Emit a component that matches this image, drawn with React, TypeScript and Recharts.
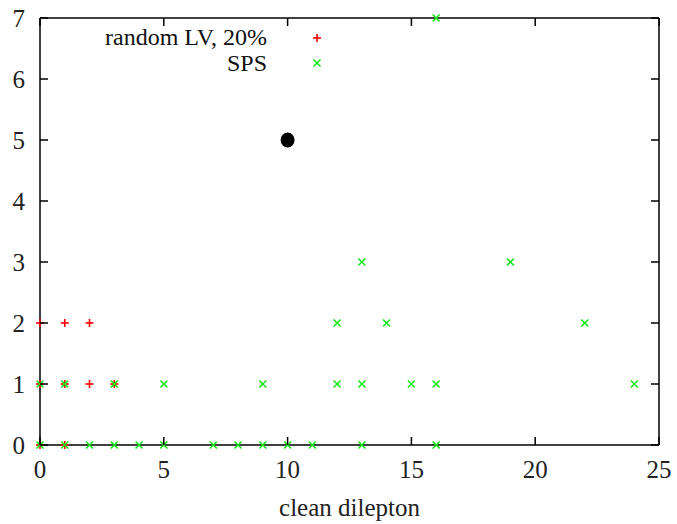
import { ScatterChart, Scatter, XAxis, YAxis } from "recharts";

const FONT = '"Liberation Serif", "Times New Roman", serif';

const xTicks = [0, 5, 10, 15, 20, 25];
const yTicks = [0, 1, 2, 3, 4, 5, 6, 7];

// random LV, 20%
const lvPoints = [
  { x: 0, y: 0 }, { x: 1, y: 0 },
  { x: 0, y: 1 }, { x: 1, y: 1 }, { x: 2, y: 1 }, { x: 3, y: 1 },
  { x: 0, y: 2 }, { x: 1, y: 2 }, { x: 2, y: 2 },
];

// SPS
const spsPoints = [
  { x: 0, y: 0 }, { x: 1, y: 0 }, { x: 2, y: 0 }, { x: 3, y: 0 }, { x: 4, y: 0 },
  { x: 5, y: 0 }, { x: 7, y: 0 }, { x: 8, y: 0 }, { x: 9, y: 0 }, { x: 10, y: 0 },
  { x: 11, y: 0 }, { x: 13, y: 0 }, { x: 16, y: 0 },
  { x: 0, y: 1 }, { x: 1, y: 1 }, { x: 3, y: 1 }, { x: 5, y: 1 }, { x: 9, y: 1 },
  { x: 12, y: 1 }, { x: 13, y: 1 }, { x: 15, y: 1 }, { x: 16, y: 1 }, { x: 24, y: 1 },
  { x: 12, y: 2 }, { x: 14, y: 2 }, { x: 22, y: 2 },
  { x: 13, y: 3 }, { x: 19, y: 3 },
  { x: 16, y: 7 },
];

// observed point
const dataPoint = [{ x: 10, y: 5 }];

const legendNames = ["random LV, 20%", "SPS"];

const RED = "#ff0000";
const GREEN = "#14e614";

const Plus = (props: any) => {
  const { cx, cy } = props;
  return (
    <g stroke={RED} strokeWidth={1.6}>
      <line x1={cx - 4} x2={cx + 4} y1={cy} y2={cy} />
      <line x1={cx} x2={cx} y1={cy - 4} y2={cy + 4} />
    </g>
  );
};

const Cross = (props: any) => {
  const { cx, cy } = props;
  return (
    <g stroke={GREEN} strokeWidth={1.6}>
      <line x1={cx - 3.5} x2={cx + 3.5} y1={cy - 3.5} y2={cy + 3.5} />
      <line x1={cx - 3.5} x2={cx + 3.5} y1={cy + 3.5} y2={cy - 3.5} />
    </g>
  );
};

const Dot = (props: any) => {
  const { cx, cy } = props;
  return <ellipse cx={cx} cy={cy} rx={7} ry={7.5} fill="#000" />;
};

const Nothing = () => <g />;

const BottomTick = (props: any) => {
  const { x, y, payload } = props;
  return (
    <g>
      <line x1={x} x2={x} y1={y} y2={y - 8} stroke="#000" strokeWidth={1.5} />
      <text x={x} y={y + 33} textAnchor="middle" fontSize={25} fontFamily={FONT} fill="#222">
        {payload.value}
      </text>
    </g>
  );
};

const TopTick = (props: any) => {
  const { x, y } = props;
  return <line x1={x} x2={x} y1={y} y2={y + 8} stroke="#000" strokeWidth={1.5} />;
};

const LeftTick = (props: any) => {
  const { x, y, payload } = props;
  return (
    <g>
      <line x1={x} x2={x + 8} y1={y} y2={y} stroke="#000" strokeWidth={1.5} />
      <text x={x - 15} y={y + 9} textAnchor="end" fontSize={25} fontFamily={FONT} fill="#222">
        {payload.value}
      </text>
    </g>
  );
};

const RightTick = (props: any) => {
  const { x, y } = props;
  return <line x1={x} x2={x - 8} y1={y} y2={y} stroke="#000" strokeWidth={1.5} />;
};

const axisLine = { stroke: "#000", strokeWidth: 1.5 };

export default function App() {
  return (
    <div style={{ position: "absolute", left: 0, top: 0, width: 677, height: 524, background: "#fff" }}>
      <ScatterChart width={677} height={524} margin={{ top: 17, right: 17, bottom: 0, left: 0 }}>
        <XAxis
          type="number"
          dataKey="x"
          domain={[0, 25]}
          ticks={xTicks}
          height={79}
          axisLine={axisLine}
          tickLine={false}
          tickSize={0}
          tickMargin={0}
          tick={<BottomTick />}
          interval={0}
          label={{
            value: "clean dilepton",
            position: "insideBottom",
            offset: 8,
            style: { fontFamily: FONT, fontSize: 25, fill: "#222" },
          }}
        />
        <XAxis
          xAxisId="top"
          orientation="top"
          type="number"
          dataKey="x"
          domain={[0, 25]}
          ticks={xTicks}
          height={1}
          axisLine={axisLine}
          tickLine={false}
          tickSize={0}
          tickMargin={0}
          tick={<TopTick />}
          interval={0}
        />
        <YAxis
          type="number"
          dataKey="y"
          domain={[0, 7]}
          ticks={yTicks}
          width={40}
          axisLine={axisLine}
          tickLine={false}
          tickSize={0}
          tickMargin={0}
          tick={<LeftTick />}
          interval={0}
        />
        <YAxis
          yAxisId="right"
          orientation="right"
          type="number"
          dataKey="y"
          domain={[0, 7]}
          ticks={yTicks}
          width={1}
          axisLine={axisLine}
          tickLine={false}
          tickSize={0}
          tickMargin={0}
          tick={<RightTick />}
          interval={0}
        />
        <Scatter name={legendNames[0]} data={lvPoints} shape={<Plus />} isAnimationActive={false} />
        <Scatter name={legendNames[1]} data={spsPoints} shape={<Cross />} isAnimationActive={false} />
        <Scatter name="data" data={dataPoint} shape={<Dot />} isAnimationActive={false} />
        <Scatter
          xAxisId="top"
          yAxisId="right"
          data={spsPoints}
          shape={<Nothing />}
          isAnimationActive={false}
        />
      </ScatterChart>
      <svg
        width={677}
        height={524}
        style={{ position: "absolute", left: 0, top: 0, pointerEvents: "none" }}
      >
        <text x={267} y={45} textAnchor="end" fontSize={24} fontFamily={FONT} fill="#111">
          {legendNames[0]}
        </text>
        <Plus cx={317} cy={38} />
        <text x={267} y={71} textAnchor="end" fontSize={24} fontFamily={FONT} fill="#111">
          {legendNames[1]}
        </text>
        <Cross cx={317} cy={63} />
      </svg>
    </div>
  );
}
